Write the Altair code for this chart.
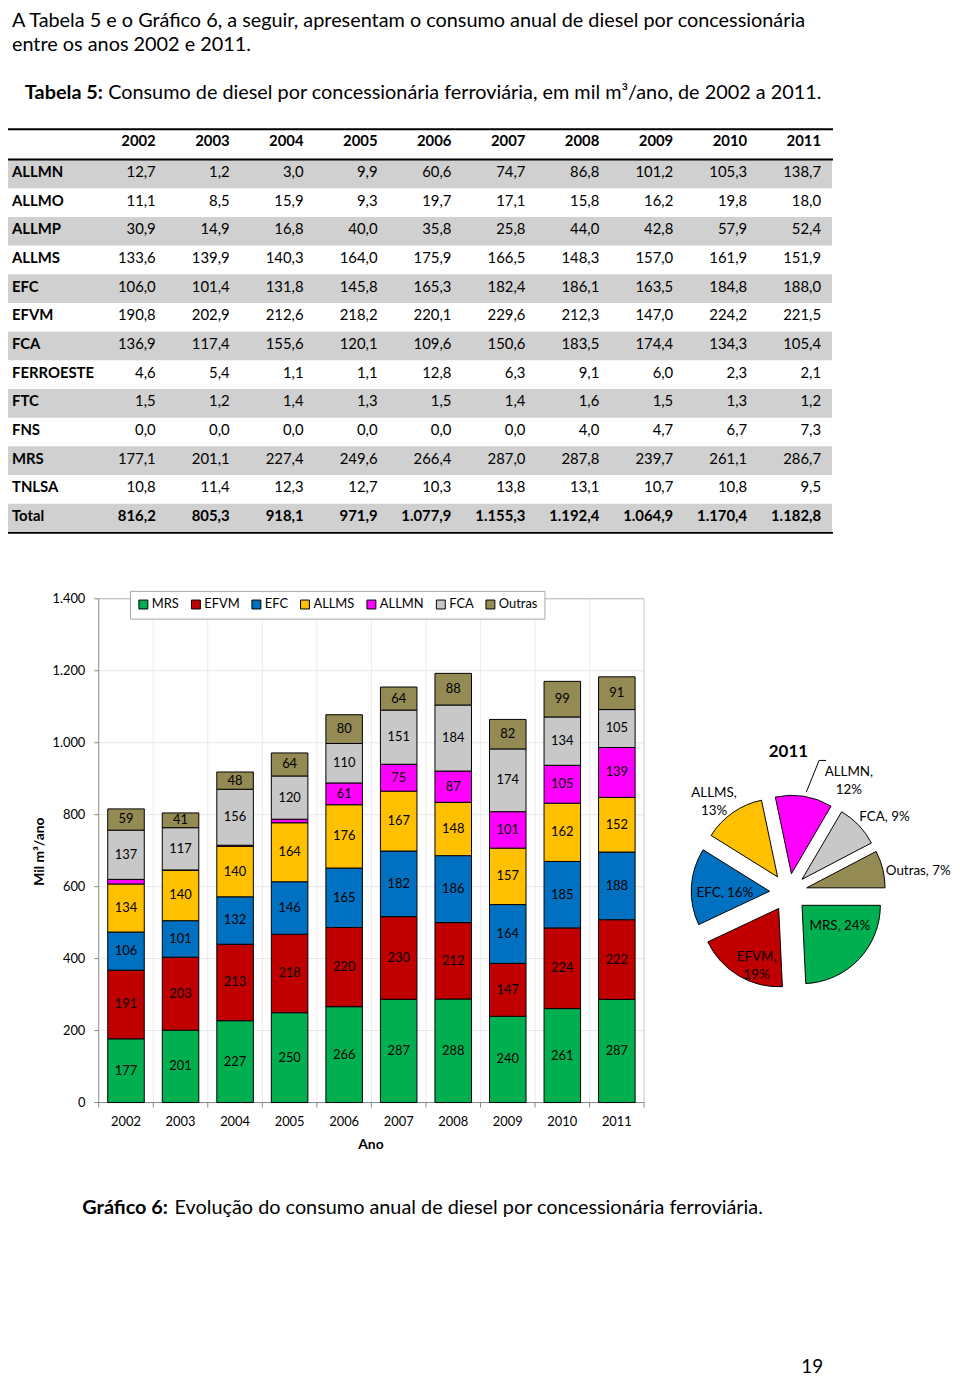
import altair as alt
import pandas as pd

FONT = "Lato"

# ---------------- data ----------------
years = ["2002", "2003", "2004", "2005", "2006", "2007", "2008", "2009", "2010", "2011"]
table_rows = ["ALLMN", "ALLMO", "ALLMP", "ALLMS", "EFC", "EFVM", "FCA",
              "FERROESTE", "FTC", "FNS", "MRS", "TNLSA", "Total"]
ALLMN = [12.7, 1.2, 3.0, 9.9, 60.6, 74.7, 86.8, 101.2, 105.3, 138.7]
ALLMO = [11.1, 8.5, 15.9, 9.3, 19.7, 17.1, 15.8, 16.2, 19.8, 18.0]
ALLMP = [30.9, 14.9, 16.8, 40.0, 35.8, 25.8, 44.0, 42.8, 57.9, 52.4]
ALLMS = [133.6, 139.9, 140.3, 164.0, 175.9, 166.5, 148.3, 157.0, 161.9, 151.9]
EFC = [106.0, 101.4, 131.8, 145.8, 165.3, 182.4, 186.1, 163.5, 184.8, 188.0]
EFVM = [190.8, 202.9, 212.6, 218.2, 220.1, 229.6, 212.3, 147.0, 224.2, 221.5]
FCA = [136.9, 117.4, 155.6, 120.1, 109.6, 150.6, 183.5, 174.4, 134.3, 105.4]
FERROESTE = [4.6, 5.4, 1.1, 1.1, 12.8, 6.3, 9.1, 6.0, 2.3, 2.1]
FTC = [1.5, 1.2, 1.4, 1.3, 1.5, 1.4, 1.6, 1.5, 1.3, 1.2]
FNS = [0.0, 0.0, 0.0, 0.0, 0.0, 0.0, 4.0, 4.7, 6.7, 7.3]
MRS = [177.1, 201.1, 227.4, 249.6, 266.4, 287.0, 287.8, 239.7, 261.1, 286.7]
TNLSA = [10.8, 11.4, 12.3, 12.7, 10.3, 13.8, 13.1, 10.7, 10.8, 9.5]
TOTAL = [816.2, 805.3, 918.1, 971.9, 1077.9, 1155.3, 1192.4, 1064.9, 1170.4, 1182.8]
table_values = [ALLMN, ALLMO, ALLMP, ALLMS, EFC, EFVM, FCA, FERROESTE, FTC, FNS, MRS, TNLSA, TOTAL]

series = ["MRS", "EFVM", "EFC", "ALLMS", "ALLMN", "FCA", "Outras"]
OUTRAS = [59, 41, 48, 64, 80, 64, 88, 82, 99, 91]
bar_values = [MRS, EFVM, EFC, ALLMS, ALLMN, FCA, OUTRAS]
colors = ["#00b050", "#c00000", "#0070c0", "#ffc000", "#ff00ff", "#c8c8c8", "#948a54"]

y_ticks = [0, 200, 400, 600, 800, 1000, 1200, 1400]
y_tick_labels = ["0", "200", "400", "600", "800", "1.000", "1.200", "1.400"]
boundaries = [0, 1, 2, 3, 4, 5, 6, 7, 8, 9, 10]

pie_title = "2011"
pie_values = [287, 222, 188, 152, 139, 105, 91]
pie_labels = ["MRS, 24%", "EFVM,\n19%", "EFC, 16%", "ALLMS,\n13%", "ALLMN,\n12%", "FCA, 9%", "Outras, 7%"]

intro1 = "A Tabela 5 e o Gráfico 6, a seguir, apresentam o consumo anual de diesel por concessionária"
intro2 = "entre os anos 2002 e 2011."
tab_title_bold = "Tabela 5:"
tab_title_rest = "Consumo de diesel por concessionária ferroviária, em mil m³/ano, de 2002 a 2011."
cap_bold = "Gráfico 6:"
cap_rest = "Evolução do consumo anual de diesel por concessionária ferroviária."
y_title = "Mil m³/ano"
x_title = "Ano"
page_no = "19"

# ---------------- layout (styling only) ----------------
W, H = 952, 1373
pie_label_dx = [52, -32, -64, -75, 61, 97, 131]
pie_label_dy = [34, 65, 1, -100, -121, -76, -21]
leader_x = [38, 31, 18]
leader_y = [-133, -133, -101]
EXPLODE = 19
BODY = 20


def text(txt, x, y, size, bold=False, align="left", baseline="alphabetic", angle=None):
    kw = dict(font=FONT, fontSize=size, align=align, baseline=baseline, color="black",
              fontWeight="bold" if bold else "normal")
    if angle is not None:
        kw["angle"] = angle
    return alt.Chart(pd.DataFrame({"t": [txt]})).mark_text(**kw).encode(
        x=alt.value(x), y=alt.value(y), text="t:N")


one = pd.DataFrame({"a": [0]})


def hrule(y, x0, x1, color="black", width=1.0):
    return alt.Chart(one).mark_rule(color=color, strokeWidth=width).encode(
        x=alt.value(x0), x2=alt.value(x1), y=alt.value(y))


# ---------------- header text ----------------
header = alt.layer(
    text(intro1, 4, 13, BODY),
    text(intro2, 4, 38, BODY),
    text(tab_title_bold, 17, 86, BODY, bold=True),
    text(tab_title_rest, 101, 86, BODY),
)

# ---------------- table ----------------
tbl = pd.DataFrame([{"row": r, "ri": i, "year": y, "v": v}
                    for i, (r, vals) in enumerate(zip(table_rows, table_values))
                    for y, v in zip(years, vals)])
rows_df = pd.DataFrame({"row": table_rows, "ri": list(range(len(table_rows)))})
years_df = pd.DataFrame({"year": years})

row_sc = alt.Scale(type="band", domain=table_rows, range=[147, 523], paddingInner=0, paddingOuter=0)
col_sc = alt.Scale(type="point", domain=years, range=[149, 820], padding=0)
fmt = "replace(replace(replace(format(datum.v, ',.1f'), ',', '_'), '.', ','), '_', '.')"

bands = alt.Chart(rows_df).transform_filter("datum.ri % 2 == 0").mark_rect(color="#d0d0d0").encode(
    y=alt.Y("row:N", scale=row_sc, axis=None), x=alt.value(0), x2=alt.value(831))
row_lbl = alt.Chart(rows_df).mark_text(font=FONT, fontSize=15, fontWeight="bold", align="left",
                                       baseline="middle", color="black", dy=-2).encode(
    y=alt.Y("row:N", scale=row_sc, axis=None), x=alt.value(4), text="row:N")
head_lbl = alt.Chart(years_df).mark_text(font=FONT, fontSize=15, fontWeight="bold", align="right",
                                         baseline="middle", color="black").encode(
    x=alt.X("year:N", scale=col_sc, axis=None), y=alt.value(128), text="year:N")
nums = alt.Chart(tbl).transform_filter("datum.row != 'Total'").transform_calculate(lbl=fmt).mark_text(
    font=FONT, fontSize=15, align="right", baseline="middle", color="black", dy=-2).encode(
    x=alt.X("year:N", scale=col_sc, axis=None), y=alt.Y("row:N", scale=row_sc, axis=None), text="lbl:N")
nums_tot = alt.Chart(tbl).transform_filter("datum.row == 'Total'").transform_calculate(lbl=fmt).mark_text(
    font=FONT, fontSize=15, fontWeight="bold", align="right", baseline="middle", color="black", dy=-2).encode(
    x=alt.X("year:N", scale=col_sc, axis=None), y=alt.Y("row:N", scale=row_sc, axis=None), text="lbl:N")
table = alt.layer(bands, row_lbl, head_lbl, nums, nums_tot,
                  hrule(116.5, 0, 832, width=2), hrule(147, 0, 832, width=2), hrule(523.5, 0, 832, width=2))

# ---------------- stacked bars ----------------
color_sc = alt.Scale(domain=series, range=colors)
legend = alt.Legend(title=None, orient="none", legendX=123, legendY=582, direction="horizontal",
                    columns=7, symbolType="square", symbolSize=81, symbolStrokeColor="black",
                    symbolStrokeWidth=1, symbolOpacity=1, labelFont=FONT, labelFontSize=13,
                    labelColor="black", labelOffset=2, columnPadding=10, padding=7,
                    strokeColor="#a6a6a6", fillColor="white")

grid_x = alt.Scale(domain=[0, 10], range=[91.5, 641.5])
grid_y = alt.Scale(domain=[0, 1400], range=[1098, 590])
ticks_df = pd.DataFrame({"t": y_ticks, "lab": y_tick_labels})
bnd_df = pd.DataFrame({"b": boundaries})

hgrid = alt.Chart(ticks_df).transform_filter("datum.t > 0 && datum.t < 1400").mark_rule(
    color="#e6e6e6", strokeWidth=1).encode(
    y=alt.Y("t:Q", scale=grid_y, axis=None), x=alt.X(datum=0, scale=grid_x, axis=None), x2=alt.X2(datum=10))
vgrid = alt.Chart(bnd_df).transform_filter("datum.b > 0 && datum.b < 10").mark_rule(
    color="#ececec", strokeWidth=1).encode(
    x=alt.X("b:Q", scale=grid_x, axis=None), y=alt.Y(datum=0, scale=grid_y, axis=None), y2=alt.Y2(datum=1400))
top_border = alt.Chart(one).mark_rule(color="#b0b0b0").encode(
    x=alt.X(datum=0, scale=grid_x, axis=None), x2=alt.X2(datum=10),
    y=alt.Y(datum=1400, scale=grid_y, axis=None))
right_border = alt.Chart(one).mark_rule(color="#c8c8c8").encode(
    x=alt.X(datum=10, scale=grid_x, axis=None),
    y=alt.Y(datum=0, scale=grid_y, axis=None), y2=alt.Y2(datum=1400))
y_axis_line = alt.Chart(one).mark_rule(color="#868686").encode(
    x=alt.X(datum=0, scale=grid_x, axis=None),
    y=alt.Y(datum=0, scale=grid_y, axis=None), y2=alt.Y2(datum=1400))
x_axis_line = alt.Chart(one).mark_rule(color="#868686").encode(
    x=alt.X(datum=0, scale=grid_x, axis=None), x2=alt.X2(datum=10),
    y=alt.Y(datum=0, scale=grid_y, axis=None))
x_ticks = alt.Chart(bnd_df).mark_rule(color="#868686").encode(
    x=alt.X("b:Q", scale=grid_x, axis=None), y=alt.value(1098), y2=alt.value(1103))
y_ticks_m = alt.Chart(ticks_df).mark_rule(color="#868686").encode(
    y=alt.Y("t:Q", scale=grid_y, axis=None), x=alt.value(87), x2=alt.value(91.5))
y_labels = alt.Chart(ticks_df).mark_text(font=FONT, fontSize=13, align="right", baseline="middle",
                                         color="black").encode(
    y=alt.Y("t:Q", scale=grid_y, axis=None), x=alt.value(78), text="lab:N")
grid = alt.layer(hgrid, vgrid, top_border, right_border, y_axis_line, x_axis_line, x_ticks, y_ticks_m, y_labels)

bar_df = pd.DataFrame([{"year": y, "series": s, "si": i, "v": v}
                       for i, (s, vals) in enumerate(zip(series, bar_values))
                       for y, v in zip(years, vals)])
bx = alt.Scale(type="band", domain=years, range=[91.5, 641.5], paddingInner=0.33, paddingOuter=0.165)
by = alt.Scale(domain=[0, 1400], range=[1098, 590])
bar_base = alt.Chart(bar_df).transform_stack(
    stack="v", groupby=["year"], as_=["y0", "y1"], sort=[alt.SortField("si", order="ascending")]
).transform_calculate(mid="(datum.y0 + datum.y1) / 2")
bars = bar_base.mark_bar(stroke="black", strokeWidth=1).encode(
    x=alt.X("year:N", scale=bx, axis=None),
    y=alt.Y("y0:Q", scale=by, axis=None), y2="y1:Q",
    color=alt.Color("series:N", scale=color_sc, legend=legend))
bar_lbl = bar_base.transform_filter("datum.v >= 20").mark_text(
    font=FONT, fontSize=13, align="center", baseline="middle", color="black").encode(
    x=alt.X("year:N", scale=bx, axis=None), y=alt.Y("mid:Q", scale=by, axis=None),
    text=alt.Text("v:Q", format=".0f"))
x_labels = alt.Chart(years_df).mark_text(font=FONT, fontSize=13, align="center", baseline="middle",
                                         color="black").encode(
    x=alt.X("year:N", scale=bx, axis=None), y=alt.value(1118), text="year:N")
barchart = alt.layer(bars, bar_lbl, x_labels)

# ---------------- exploded pie ----------------
px_sc = alt.Scale(domain=[-100, 100], range=[687, 887])
py_sc = alt.Scale(domain=[-100, 100], range=[786, 986])
pie_df = pd.DataFrame({"series": series, "si": list(range(len(series))), "v": pie_values,
                       "lbl": pie_labels, "ldx": pie_label_dx, "ldy": pie_label_dy})
pie_base = (alt.Chart(pie_df)
            .transform_joinaggregate(tot="sum(v)")
            .transform_window(cum="sum(v)", sort=[alt.SortField("si", order="ascending")], frame=[None, 0])
            .transform_calculate(t1="PI / 2 + 2 * PI * datum.cum / datum.tot")
            .transform_calculate(t0="datum.t1 - 2 * PI * datum.v / datum.tot")
            .transform_calculate(mid="(datum.t0 + datum.t1) / 2")
            .transform_calculate(ex=f"{EXPLODE} * sin(datum.mid)")
            .transform_calculate(ey=f"-{EXPLODE} * cos(datum.mid)"))
arcs = pie_base.mark_arc(radius=79, stroke="black", strokeWidth=1).encode(
    theta=alt.Theta("t0:Q", scale=None, stack=None), theta2="t1:Q",
    x=alt.X("ex:Q", scale=px_sc, axis=None), y=alt.Y("ey:Q", scale=py_sc, axis=None),
    color=alt.Color("series:N", scale=color_sc, legend=legend))
pie_lbl = alt.Chart(pie_df).mark_text(font=FONT, fontSize=13.5, align="center", baseline="middle",
                                      lineBreak="\n", lineHeight=18, color="black").encode(
    x=alt.X("ldx:Q", scale=px_sc, axis=None), y=alt.Y("ldy:Q", scale=py_sc, axis=None), text="lbl:N")
leader = alt.Chart(pd.DataFrame({"lx": leader_x, "ly": leader_y, "o": [0, 1, 2]})).mark_line(
    color="black", strokeWidth=1).encode(
    x=alt.X("lx:Q", scale=px_sc, axis=None), y=alt.Y("ly:Q", scale=py_sc, axis=None), order="o:Q")
pie = alt.layer(arcs, leader, pie_lbl)

# ---------------- other texts ----------------
texts = alt.layer(
    text(pie_title, 787, 745, 17, bold=True, align="center", baseline="middle"),
    text(y_title, 32, 845, 14, bold=True, align="center", baseline="middle", angle=270),
    text(x_title, 366, 1141, 14, bold=True, align="center", baseline="middle"),
    text(cap_bold, 75, 1210, BODY, bold=True),
    text(cap_rest, 168, 1210, BODY),
    text(page_no, 811, 1371, 19, align="center"),
)

chart = alt.layer(header, table, grid, barchart, pie, texts).resolve_scale(
    x="independent", y="independent"
).properties(
    width=W, height=H, padding=0, autosize=alt.AutoSizeParams(type="none"), background="white"
).configure_view(stroke=None)

chart.save("out.html", embed_options={"renderer": "svg", "actions": False})
